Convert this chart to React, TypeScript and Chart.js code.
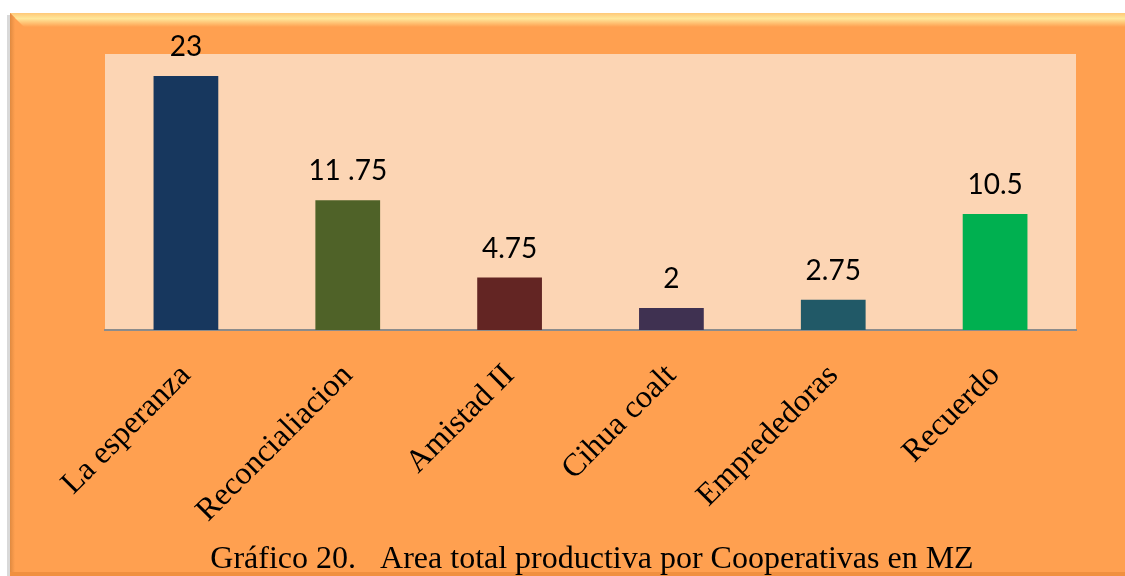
import React, { useEffect, useRef } from "react";
import { Chart, registerables } from "chart.js";

Chart.register(...registerables);

const categories = ["La esperanza", "Reconcialiacion", "Amistad II", "Cihua coalt", "Emprededoras", "Recuerdo"];
const values = [23, 11.75, 4.75, 2, 2.75, 10.5];
const valueLabels = ["23", "11 .75", "4.75", "2", "2.75", "10.5"];
const barColors = ["#17375E", "#4F6228", "#632523", "#3F3151", "#215967", "#00B050"];
const titleText = "Gráfico 20.   Area total productiva por Cooperativas en MZ";

const W = 1125;
const H = 576;

const framePlugin = {
  id: "frame",
  beforeDraw(chart: any) {
    const { ctx, chartArea } = chart;
    ctx.save();
    ctx.fillStyle = "#FFFFFF";
    ctx.fillRect(0, 0, W, H);
    // shadow
    ctx.fillStyle = "#D9D9D9";
    ctx.fillRect(7, 15, 4, H);
    // frame
    ctx.fillStyle = "#FFA050";
    ctx.fillRect(10, 13, W - 10, H - 13);
    const g = ctx.createLinearGradient(0, 13, 0, 27);
    g.addColorStop(0, "#FFC878");
    g.addColorStop(0.4, "#FFE79A");
    g.addColorStop(1, "#FFA050");
    ctx.fillStyle = g;
    ctx.beginPath();
    ctx.moveTo(10, 13);
    ctx.lineTo(W, 13);
    ctx.lineTo(W, 27);
    ctx.lineTo(24, 27);
    ctx.closePath();
    ctx.fill();
    const gl = ctx.createLinearGradient(10, 0, 15, 0);
    gl.addColorStop(0, "#E08A40");
    gl.addColorStop(1, "#FFA050");
    ctx.fillStyle = gl;
    ctx.beginPath();
    ctx.moveTo(10, 13);
    ctx.lineTo(15, 18);
    ctx.lineTo(15, H);
    ctx.lineTo(10, H);
    ctx.closePath();
    ctx.fill();
    ctx.fillStyle = "#F09040";
    ctx.fillRect(10, H - 4, W - 10, 4);
    // plot area
    ctx.fillStyle = "#FCD5B4";
    ctx.fillRect(chartArea.left, chartArea.top, chartArea.right - chartArea.left, chartArea.bottom - chartArea.top);
    ctx.restore();
  },
  afterDraw(chart: any) {
    const { ctx } = chart;
    ctx.save();
    ctx.fillStyle = "#000000";
    ctx.font = "32px 'Liberation Serif', 'Times New Roman', serif";
    ctx.textAlign = "center";
    ctx.textBaseline = "alphabetic";
    ctx.fillText(titleText, 592, 568);
    ctx.restore();
  },
  afterDatasetsDraw(chart: any) {
    const { ctx } = chart;
    const meta = chart.getDatasetMeta(0);
    ctx.save();
    ctx.fillStyle = "#000000";
    ctx.font = "28px Lato, 'Open Sans', sans-serif";
    ctx.textAlign = "center";
    ctx.textBaseline = "middle";
    meta.data.forEach((bar: any, i: number) => {
      ctx.fillText(valueLabels[i], bar.x, bar.y - 29);
    });
    ctx.restore();
  },
};

export default function App() {
  const ref = useRef<HTMLCanvasElement | null>(null);
  useEffect(() => {
    if (!ref.current) return;
    const chart = new Chart(ref.current, {
      type: "bar",
      data: {
        labels: categories,
        datasets: [
          {
            data: values,
            backgroundColor: barColors,
            barPercentage: 0.4,
            categoryPercentage: 1,
          },
        ],
      },
      options: {
        animation: false,
        responsive: false,
        maintainAspectRatio: false,
        layout: { padding: { left: 105, right: 49, top: 54, bottom: 0 } },
        plugins: {
          legend: { display: false },
          tooltip: { enabled: false },
          title: { display: false },
        },
        scales: {
          x: {
            grid: { display: false, drawTicks: false },
            border: { display: true, color: "#8C8C8C", width: 2 },
            ticks: {
              color: "#000000",
              font: { family: "'Liberation Serif', 'Times New Roman', serif", size: 32 },
              minRotation: 45,
              maxRotation: 45,
              padding: 27,
              autoSkip: false,
            },
            afterFit(scale: any) {
              scale.height = H - 330;
            },
          },
          y: {
            display: false,
            min: 0,
            max: 25,
          },
        },
      },
      plugins: [framePlugin],
    } as any);
    return () => chart.destroy();
  }, []);
  return (
    <div style={{ position: "absolute", left: 0, top: 0, width: W, height: H }}>
      <canvas ref={ref} width={W} height={H} style={{ display: "block", width: W, height: H }} />
    </div>
  );
}
